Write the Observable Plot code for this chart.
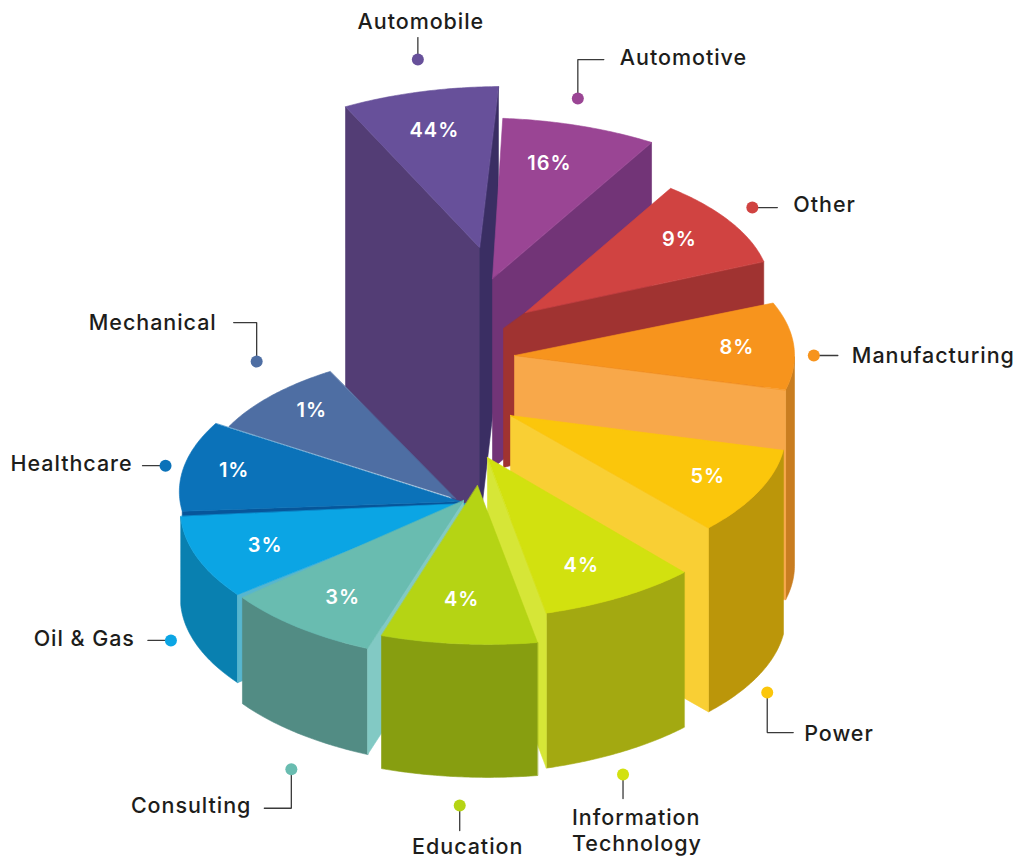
<!DOCTYPE html>
<html>
<head>
<meta charset="utf-8">
<style>html,body{margin:0;padding:0;background:#fff}svg{display:block}</style>
<script src="https://cdn.jsdelivr.net/npm/d3@7"></script>
<script src="https://cdn.jsdelivr.net/npm/@observablehq/plot@0.6"></script>
</head>
<body>
<div id="chart"></div>
<script>
// Chart values
const categories = ["Automobile","Automotive","Other","Manufacturing","Power","Information\nTechnology","Education","Consulting","Oil & Gas","Healthcare","Mechanical"];
const shares = [44,16,9,8,5,4,4,3,3,1,1];

// Colours
const topColors   = ["#67509a","#9a4594","#d04341","#f7941d","#fbc60b","#d2e10f","#b5d414","#69bcb0","#0ba5e4","#0b72b9","#4e6ea3"];
const outerColors = [null,null,null,"#c97d20","#bb960a","#a3a911","#879e10","#528c84","#0980b0",null,null];
const startWall   = ["#533d75",null,null,null,null,null,null,"#82c9c4","#57b6cf","#07569a",null];
const endWall     = ["#3a2e63","#723477","#a03331","#f8a84a","#f9cf34","#d6e637",null,null,null,null,null];

// Wedge model of the exploded 3D pie (degrees, clockwise on screen; tilt flattens y)
const tilt = 0.49;
const centre = [480,498];
const hubX = [479,492,525,514,510,487,477,463,466,460,455];
const hubY = [247,278,312,355,415,457,485,500,503,501,498];
const angleFrom = [245,271.8,-60.2,-22.5,14.6,50,79.4,107.6,140.9,175.9,212.9];
const angleTo   = [273.3,299.8,-23.6,14.5,49.2,79.5,107.4,138.1,174.7,213,244.2];
const radiusFrom = [317,327,292,280,282,306,326,317,295,279,270];
const radiusTo   = [329,320,260,280,303,323,321,297,287,292,288];
const depth = [280,190,139,210,184,155,133,106,88,8,8];
const notchX = [0,0,-22,0,0,0,0,0,0,0,0];
const notchY = [0,0,16,0,0,0,0,0,0,0,0];
const paintOrder = [0,1,2,3,4,5,10,9,8,7,6];

// Placement of the values on the wedges
const valueAngle  = [259.3,283.6,-44,-4.1,32.2,66.9,93.9,121.4,156.8,195.6,231.3];
const valueRadius = [243,242,214,223,233,239,233,232,219,235,230];

// Callouts: dot in polar form round the centre, then leader and label offsets from the dot
const dotAngle  = [266,276.8,294.6,318.8,54.1,75.8,91.9,108.9,136.9,192,231.3];
const dotRadius = [898,822,653,443,489,581,627,584,424,322,358];
const bendX = [0,0,0,0,0,0,0,0,0,0,0];
const bendY = [0,-39,0,0,40,0,0,39,0,0,-39];
const endX  = [0,26,25,24,26,0,0,-27,-23,-23,-23];
const endY  = [-22,-39,0,0,40,24,25,39,0,0,-39];
const labelDX = [3,42,41,38,37,-51,8,-40,-36,-33,-40];
const labelDY = [-39,-42,-4,-1,40,55.5,40,36,-3,-3,-40];
const labelAnchor = ["middle","start","start","start","start","start","middle","end","end","end","end"];

const rad = d => d * Math.PI / 180;
const polar = (cx, cy, deg, r) => [cx + r * Math.cos(rad(deg)), cy + r * tilt * Math.sin(rad(deg))];

function arc(i, dy = 0, visibleOnly = false) {
  const pts = [];
  for (let s = 0; s <= 48; ++s) {
    const t = s / 48;
    const a = angleFrom[i] + (angleTo[i] - angleFrom[i]) * t;
    // the outer wall only shows from the rightmost point of the rim onward
    if (visibleOnly && angleFrom[i] < 0 && a < 0) continue;
    const r = radiusFrom[i] + (radiusTo[i] - radiusFrom[i]) * t;
    const [x, y] = polar(hubX[i], hubY[i], a, r);
    pts.push([x, y + dy]);
  }
  return pts;
}

const faces = [];
function addFace(id, color, pts) { for (const [x, y] of pts) faces.push({x, y, face: id, color}); }

paintOrder.forEach(i => {
  const top = arc(i), T = depth[i], hub = [hubX[i], hubY[i]];
  const first = top[0], last = top[top.length - 1];
  const low = [hub[0] + notchX[i], hub[1] + notchY[i]];
  if (outerColors[i]) addFace(`o${i}`, outerColors[i], [...arc(i, 0, true), ...arc(i, T, true).reverse()]);
  if (startWall[i]) addFace(`s${i}`, startWall[i], [hub, first, [first[0], first[1] + T], [low[0], low[1] + T], low]);
  if (endWall[i]) addFace(`e${i}`, endWall[i], [hub, last, [last[0], last[1] + T], [low[0], low[1] + T], low]);
  addFace(`t${i}`, topColors[i], [hub, ...top]);
});

const values = categories.map((c, i) => {
  const [x, y] = polar(hubX[i], hubY[i], valueAngle[i], valueRadius[i]);
  return {x, y, text: `${shares[i]}%`};
});

const dots = categories.map((c, i) => {
  const [x, y] = polar(centre[0], centre[1], dotAngle[i], dotRadius[i]);
  return {x, y, color: topColors[i], name: c, i};
});

const leaders = dots.flatMap(d => [
  {x: d.x, y: d.y, id: d.i},
  {x: d.x + bendX[d.i], y: d.y + bendY[d.i], id: d.i},
  {x: d.x + endX[d.i], y: d.y + endY[d.i], id: d.i}
]);

const labels = dots.map(d => ({x: d.x + labelDX[d.i], y: d.y + labelDY[d.i], name: d.name, anchor: labelAnchor[d.i]}));
const textStyle = {fontFamily: "Inter, sans-serif", fontWeight: 500, fontSize: 21.5, fill: "#1d1d1b", lineHeight: 1.17};

const chart = Plot.plot({
  width: 1025, height: 859, margin: 0,
  x: {domain: [0, 1025], axis: null},
  y: {domain: [0, 859], reverse: true, axis: null},
  color: {type: "identity"},
  style: {background: "#fff", letterSpacing: "0.95px"},
  marks: [
    Plot.line(faces, {x: "x", y: "y", z: "face", fill: "color", stroke: "color", strokeWidth: 0.6, curve: "linear-closed"}),
    Plot.line(leaders, {x: "x", y: "y", z: "id", stroke: "#3a3a3a", strokeWidth: 1.3, strokeLinejoin: "miter"}),
    Plot.dot(dots, {x: "x", y: "y", r: 6, fill: "color", stroke: "none"}),
    Plot.text(values, {x: "x", y: "y", text: "text", fill: "#fff", fontFamily: "Inter, sans-serif", fontWeight: 600, fontSize: 20}),
    ...["start","middle","end"].map(a => Plot.text(labels.filter(l => l.anchor === a), {x: "x", y: "y", text: "name", textAnchor: a, ...textStyle}))
  ]
});
document.getElementById("chart").append(chart);
</script>
</body>
</html>
